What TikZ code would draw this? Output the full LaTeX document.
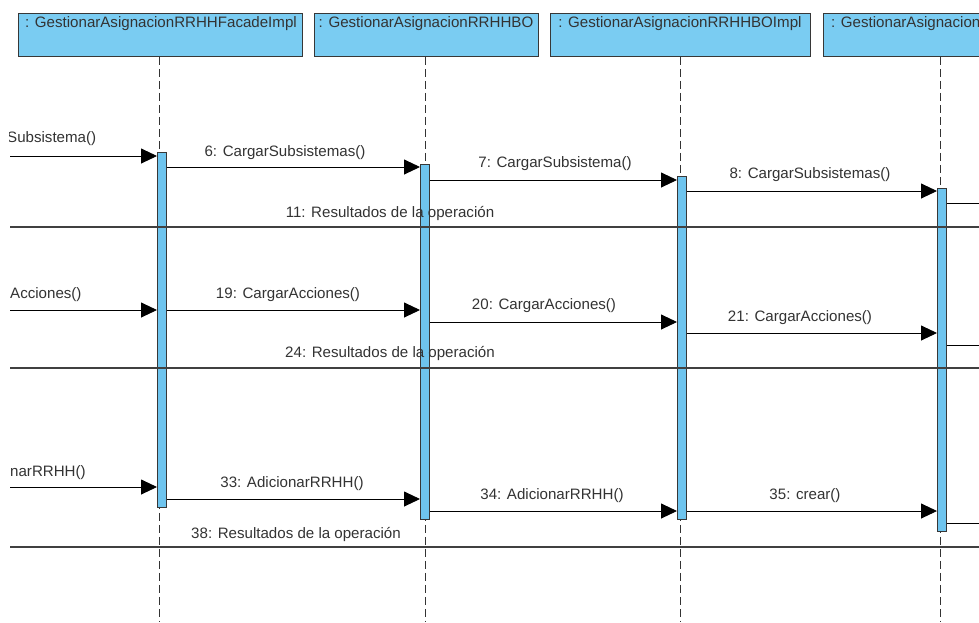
\documentclass[tikz,border=0pt]{standalone}
\usepackage{fontspec}
\setmainfont{Liberation Sans}
\usetikzlibrary{arrows.meta}
\definecolor{objfill}{RGB}{122,204,242}
\definecolor{barfill}{RGB}{110,196,238}
\definecolor{linegray}{RGB}{55,55,55}
\begin{document}
\begin{tikzpicture}[x=1pt,y=-1pt,
  objbox/.style={draw=linegray, fill=objfill, line width=0.9pt, inner sep=0pt, anchor=north west, minimum height=43pt},
  objtext/.style={font=\fontsize{15.1}{16}\selectfont, text=black!80, inner sep=0pt, anchor=north},
  actbar/.style={draw=linegray, fill=barfill, line width=0.9pt, inner sep=0pt, anchor=north west, minimum width=9pt},
  lifeline/.style={draw=black!80, line width=0.9pt, dash pattern=on 8pt off 4pt},
  msg/.style={draw=black, line width=0.9pt, -{Triangle[length=16pt,width=15pt]}},
  plainmsg/.style={draw=black, line width=0.9pt},
  retline/.style={draw=black!75, line width=1.1pt},
  lbl/.style={font=\fontsize{15.1}{16}\selectfont, text=black!80, inner sep=0pt}]
\useasboundingbox (0,0) rectangle (979,622);
\fill[white] (0,0) rectangle (979,622);
\begin{scope}
\clip (9,0) rectangle (979,622);
% object boxes
\node[objbox, minimum width=284pt] (o1) at (18,13) {};
\node[objbox, minimum width=224pt] (o2) at (314,13) {};
\node[objbox, minimum width=260pt] (o3) at (550,13) {};
\node[objbox, minimum width=234pt] (o4) at (823,13) {};
\node[objtext] (o1t) at (161,16) {: GestionarAsignacionRRHHFacadeImpl};
\node[objtext] (o2t) at (426,16) {: GestionarAsignacionRRHHBO};
\node[objtext] (o3t) at (680,16) {: GestionarAsignacionRRHHBOImpl};
\node[objtext, anchor=north west] (o4t) at (831,16) {: GestionarAsignacion};
% lifelines
\coordinate (l1e) at (159.5,622);
\coordinate (l2e) at (425,622);
\coordinate (l3e) at (680,622);
\coordinate (l4e) at (940,622);
\draw[lifeline] (o1.south -| l1e) -- (l1e);
\draw[lifeline] (o2.south -| l2e) -- (l2e);
\draw[lifeline] (o3.south -| l3e) -- (l3e);
\draw[lifeline] (o4.south -| l4e) -- (l4e);
% activation bars
\node[actbar, minimum height=355pt] (b1) at (157,152) {};
\node[actbar, minimum height=355pt] (b2) at (420,164) {};
\node[actbar, minimum height=343pt] (b3) at (677,176) {};
\node[actbar, minimum height=343pt] (b4) at (937,188) {};
% free ends
\coordinate (in1) at (10,156);
\coordinate (in2) at (10,310);
\coordinate (in3) at (10,487);
\coordinate (out1) at (979,203);
\coordinate (out2) at (979,345);
\coordinate (out3) at (979,523);
\coordinate (r1a) at (979,227);
\coordinate (r1b) at (10,227);
\coordinate (r2a) at (979,368);
\coordinate (r2b) at (10,368);
\coordinate (r3a) at (979,547);
\coordinate (r3b) at (10,547);
% group 1
\draw[msg] (in1) -- (b1.west |- in1);
\draw[msg] (b1.east |- 0,167) -- (b2.west |- 0,167);
\draw[msg] (b2.east |- 0,180) -- (b3.west |- 0,180);
\draw[msg] (b3.east |- 0,191) -- (b4.west |- 0,191);
\draw[plainmsg] (b4.east |- out1) -- (out1);
\draw[retline] (r1a) -- (r1b);
\node[lbl, anchor=west] (t5) at (7,139) {Subsistema()};
\node[lbl] (t6) at (285,153) {6: CargarSubsistemas()};
\node[lbl] (t7) at (555,164) {7: CargarSubsistema()};
\node[lbl] (t8) at (810,175) {8: CargarSubsistemas()};
\node[lbl] (t11) at (390,213) {11: Resultados de la operación};
% group 2
\draw[msg] (in2) -- (b1.west |- in2);
\draw[msg] (b1.east |- 0,310) -- (b2.west |- 0,310);
\draw[msg] (b2.east |- 0,322) -- (b3.west |- 0,322);
\draw[msg] (b3.east |- 0,333) -- (b4.west |- 0,333);
\draw[plainmsg] (b4.east |- out2) -- (out2);
\draw[retline] (r2a) -- (r2b);
\node[lbl, anchor=west] (t18) at (10,295) {Acciones()};
\node[lbl] (t19) at (288,295) {19: CargarAcciones()};
\node[lbl] (t20) at (544,306) {20: CargarAcciones()};
\node[lbl] (t21) at (800,318) {21: CargarAcciones()};
\node[lbl] (t24) at (390,353) {24: Resultados de la operación};
% group 3
\draw[msg] (in3) -- (b1.west |- in3);
\draw[msg] (b1.east |- 0,499) -- (b2.west |- 0,499);
\draw[msg] (b2.east |- 0,511) -- (b3.west |- 0,511);
\draw[msg] (b3.east |- 0,511) -- (b4.west |- 0,511);
\draw[plainmsg] (b4.east |- out3) -- (out3);
\draw[retline] (r3a) -- (r3b);
\node[lbl, anchor=west] (t32) at (10,473) {narRRHH()};
\node[lbl] (t33) at (292,484) {33: AdicionarRRHH()};
\node[lbl] (t34) at (552,496) {34: AdicionarRRHH()};
\node[lbl] (t35) at (805,496) {35: crear()};
\node[lbl] (t38) at (296,534) {38: Resultados de la operación};
\end{scope}
\end{tikzpicture}
\end{document}
